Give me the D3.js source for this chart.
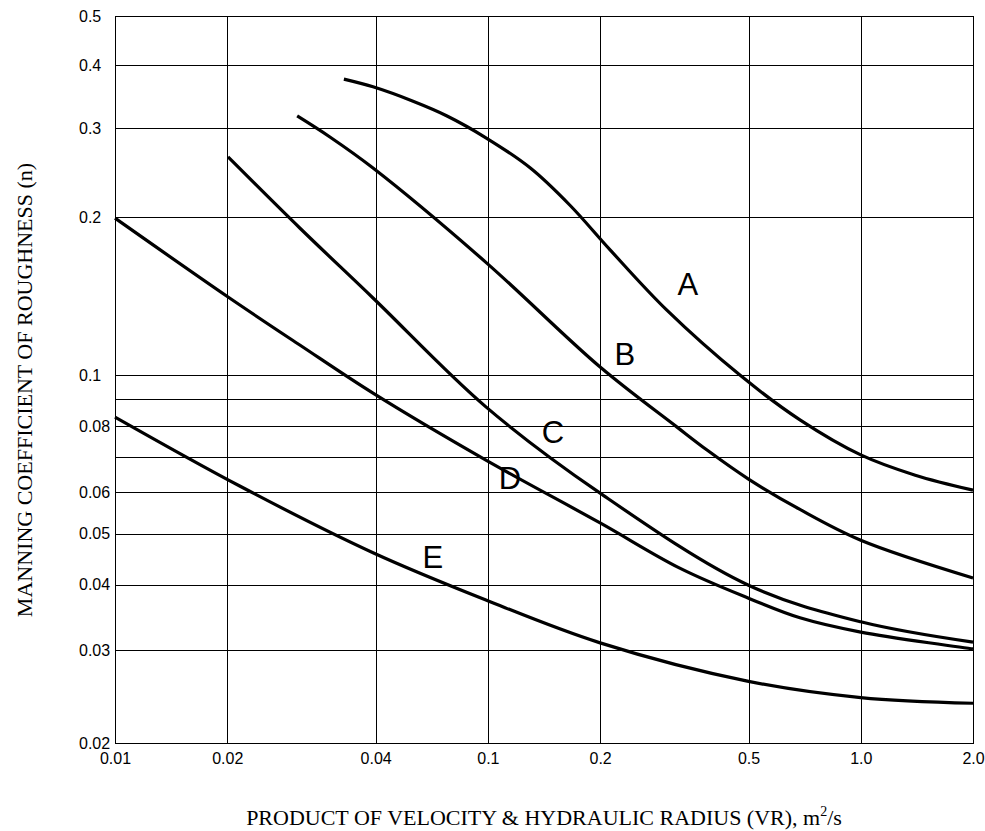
<!DOCTYPE html>
<html>
<head>
<meta charset="utf-8">
<script src="https://cdn.jsdelivr.net/npm/d3@7"></script>
<style>
  body{margin:0;background:#fff}
</style>
</head>
<body>
<div id="vis"></div>
<script>
// values: VR (m2/s) and Manning n for each curve
let curveNames=['A','B','C','D','E']

let vrA=[0.0411,0.0492,0.063,0.0777,0.0988,0.13,0.166,0.213,0.302,0.475,0.687,1.0,1.4,2.0]
let nA =[0.375,0.362,0.339,0.317,0.287,0.25,0.211,0.173,0.133,0.100,0.0823,0.0706,0.0646,0.0605]

let vrB=[0.0308,0.0377,0.0492,0.0988,0.2,0.321,0.387,0.5,0.687,1.0,2.0]
let nB =[0.317,0.288,0.25,0.164,0.1037,0.0798,0.0721,0.0635,0.0556,0.0486,0.0412]

let vrC=[0.0201,0.0313,0.0492,0.0988,0.2,0.5,1.0,2.0]
let nC =[0.263,0.1906,0.1403,0.0871,0.0597,0.0399,0.034,0.0311]

let vrD=[0.01,0.0201,0.0313,0.0492,0.0988,0.2,0.327,0.5,0.687,1.0,2.0]
let nD =[0.199,0.1409,0.1142,0.0925,0.069,0.0524,0.043,0.0377,0.0346,0.0325,0.0302]

let vrE=[0.01,0.0216,0.0492,0.0988,0.2,0.5,1.0,2.0]
let nE =[0.0833,0.0616,0.046,0.0374,0.031,0.0262,0.0244,0.0238]

// where the letters sit (in data units)
let labelVR=[0.344,0.233,0.1495,0.1146,0.0712]
let labelN =[0.142,0.1047,0.0744,0.0608,0.043]

// the source prints "0.04" on the grid line that sits at 0.05 on the log scale
let xTicks=[0.01,0.02,0.05,0.1,0.2,0.5,1,2]
let xTickLabels=['0.01','0.02','0.04','0.1','0.2','0.5','1.0','2.0']

let yTicks=[0.5,0.4,0.3,0.2,0.1,0.09,0.08,0.07,0.06,0.05,0.04,0.03,0.02]
let yTickLabels=['0.5','0.4','0.3','0.2','0.1','','0.08','','0.06','0.05','0.04','0.03','0.02']


let margin = {top: 16, right: 12, bottom: 88, left: 115},
    width = 985 - margin.left - margin.right,
    height = 831 - margin.top - margin.bottom;

let svg = d3.select("#vis")
            .append("svg")
            .attr("width", 985)
            .attr("height", 831)
            .append("g")
            .attr("transform", `translate(${margin.left},${margin.top})`);

let xScale = d3.scaleLog()
  .domain([0.01, 2])
  .range([0, width]);

// the printed y axis is slightly squeezed above 0.2, so two log pieces
let yScale = d3.scaleLog()
  .domain([0.02, 0.2, 0.5])
  .range([height, 201, 0]);

let xAxis = svg.append("g")
  .attr("transform", `translate(0,${height})`)
  .call(d3.axisBottom(xScale)
    .tickValues(xTicks)
    .tickSize(-height)
    .tickPadding(10)
    .tickFormat((d,i)=>xTickLabels[i]))

let yAxis = svg.append("g")
  .call(d3.axisLeft(yScale)
    .tickValues(yTicks)
    .tickSize(-width)
    .tickFormat((d,i)=>yTickLabels[i]))

svg.selectAll('.domain').remove()
svg.selectAll('.tick line')
  .attr('stroke','#000')
  .attr('shape-rendering','crispEdges')
svg.selectAll('.tick text')
  .attr('fill','#000')
  .style('font-family','"Liberation Sans", Arial, sans-serif')
  .style('font-size','16px')

yAxis.selectAll('.tick text')
  .attr('x',-36)
  .attr('text-anchor','start')

svg.append('rect')
  .attr('width',width)
  .attr('height',height)
  .attr('fill','none')
  .attr('stroke','#000')
  .attr('shape-rendering','crispEdges')

let curves=[[vrA,nA],[vrB,nB],[vrC,nC],[vrD,nD],[vrE,nE]].map((c,i)=>({
  name:curveNames[i],
  points:c[0].map((v,j)=>[v,c[1][j]])
}))

let line = d3.line()
  .x(d => xScale(d[0]))
  .y(d => yScale(d[1]))
  .curve(d3.curveCatmullRom.alpha(0.5))

svg.selectAll('.curve')
  .data(curves)
  .join('path')
  .attr('class','curve')
  .attr('d', d => line(d.points))
  .attr('fill','none')
  .attr('stroke','#000')
  .attr('stroke-width',3.2)

svg.selectAll('.clabel')
  .data(curveNames)
  .join('text')
  .attr('class','clabel')
  .attr('x',(d,i)=>xScale(labelVR[i]))
  .attr('y',(d,i)=>yScale(labelN[i]))
  .attr('text-anchor','middle')
  .style('font-family','"Liberation Sans", Arial, sans-serif')
  .style('font-size','31px')
  .text(d=>d)

// axis titles
let xTitle = svg.append('text')
  .attr('x', width/2)
  .attr('y', height + 82)
  .attr('text-anchor','middle')
  .style('font-family','"Liberation Serif", "Times New Roman", serif')
  .style('font-size','22px')
xTitle.append('tspan').text('PRODUCT OF VELOCITY & HYDRAULIC RADIUS (VR), m')
xTitle.append('tspan').attr('dy','-9').style('font-size','14px').text('2')
xTitle.append('tspan').attr('dy','9').text('/s')

svg.append('text')
  .attr('transform',`translate(${32-margin.left},${390-margin.top}) rotate(-90)`)
  .attr('text-anchor','middle')
  .style('font-family','"Liberation Serif", "Times New Roman", serif')
  .style('font-size','22px')
  .text('MANNING COEFFICIENT OF ROUGHNESS (n)')
</script>
</body>
</html>
